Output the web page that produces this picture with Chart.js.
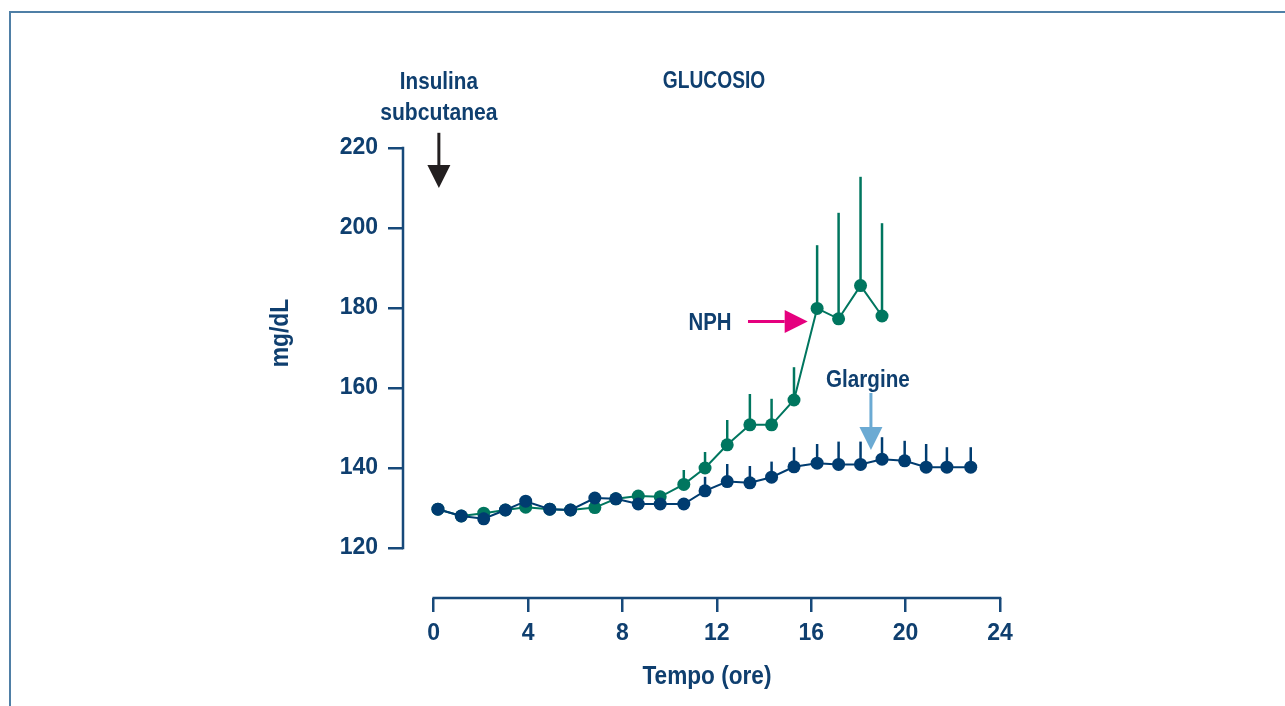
<!DOCTYPE html>
<html>
<head>
<meta charset="utf-8">
<script src="https://cdn.jsdelivr.net/npm/chart.js@4.4.0/dist/chart.umd.min.js"></script>
<style>
body{margin:0;background:#fff;}
#wrap{position:relative;width:1285px;height:706px;overflow:hidden;background:#fff}
#frame{position:absolute;left:9px;top:11px;width:1400px;height:800px;border-top:2px solid #4f7fa6;border-left:2px solid #4f7fa6}
canvas{position:absolute;left:0;top:0}
</style>
</head>
<body>
<div id="wrap"><div id="frame"></div><canvas id="myc" width="1285" height="706"></canvas></div>
<script>
// time of each sample (hours after injection)
var hours = [0.18,1.17,2.12,3.04,3.9,4.92,5.8,6.83,7.72,8.67,9.6,10.6,11.5,12.44,13.4,14.32,15.27,16.25,17.16,18.09,19.0,19.96,20.87,21.75,22.76]
// mean glucose, mg/dL
var glargine = [129.7,128,127.3,129.5,131.7,129.7,129.5,132.5,132.3,131,131,131,134.3,136.6,136.3,137.7,140.3,141.2,140.9,140.9,142.2,141.8,140.2,140.2,140.2]
var nph = [129.7,128,128.7,129.5,130.2,129.7,129.5,130.1,132.3,133,132.8,135.9,140,145.8,150.8,150.8,157,179.9,177.3,185.6,178]
// upper error bar length (SE)
var glargineErr = [1.5,1.5,1.5,1.5,1.5,1.5,1.5,1.5,1.5,1.5,1.5,1.5,3.5,4.4,4.2,3.9,4.9,4.8,5.7,5.7,5.5,5,5.8,5,5]
var nphErr = [1.5,1.5,1.5,1.5,1.5,1.5,1.5,1.5,1.5,1.5,1.5,3.6,4,6.2,7.7,6.5,8.2,15.8,26.5,27.2,23.2]
var xTicks = [0,4,8,12,16,20,24]
var yTicks = [120,140,160,180,200,220]

var navy = '#0f3f6f'
var axisCol = '#17497a'
var blueCol = '#003c70'
var greenCol = '#00765f'
var fontFam = '"Liberation Sans", Arial, sans-serif'

function toPoints(vals){
    var out = []
    for (var i=0;i<vals.length;i++) out.push({x:hours[i], y:vals[i]})
    return out
}

// vertical error bars (upper only), drawn under each series' markers
var errorBars = {
    id:'errorBars',
    beforeDatasetDraw:function(chart,args){
        var ds = chart.data.datasets[args.index]
        if(!ds.err) return
        var ctx = chart.ctx
        var ys = chart.scales.y
        ctx.save()
        ctx.strokeStyle = ds.borderColor
        ctx.lineWidth = 2.5
        args.meta.data.forEach(function(pt,i){
            var top = ys.getPixelForValue(ds.data[i].y + ds.err[i])
            ctx.beginPath()
            ctx.moveTo(pt.x, pt.y)
            ctx.lineTo(pt.x, top)
            ctx.stroke()
        })
        ctx.restore()
    }
}

function arrow(ctx,x1,y1,x2,y2,color,lw){
    var ang = Math.atan2(y2-y1,x2-x1)
    var hl = 23, hw = 11.5
    var bx = x2 - hl*Math.cos(ang), by = y2 - hl*Math.sin(ang)
    ctx.save()
    ctx.strokeStyle = color
    ctx.fillStyle = color
    ctx.lineWidth = lw
    ctx.beginPath()
    ctx.moveTo(x1,y1)
    ctx.lineTo(bx,by)
    ctx.stroke()
    ctx.beginPath()
    ctx.moveTo(x2,y2)
    ctx.lineTo(bx + hw*Math.sin(ang), by - hw*Math.cos(ang))
    ctx.lineTo(bx - hw*Math.sin(ang), by + hw*Math.cos(ang))
    ctx.closePath()
    ctx.fill()
    ctx.restore()
}

// condensed label: bold face squeezed horizontally
function label(ctx,str,x,y,size,sx,rot){
    ctx.save()
    ctx.translate(x,y)
    if(rot) ctx.rotate(rot)
    ctx.scale(sx,1)
    ctx.fillStyle = navy
    ctx.textAlign = 'center'
    ctx.textBaseline = 'middle'
    ctx.font = 'bold ' + size + 'px ' + fontFam
    ctx.fillText(str,0,0)
    ctx.restore()
}

// axis lines, titles and the arrow labels
var decor = {
    id:'decor',
    afterDraw:function(chart){
        var ctx = chart.ctx
        var xs = chart.scales.x, ys = chart.scales.y
        var X = function(v){return xs.getPixelForValue(v)}
        var Y = function(v){return ys.getPixelForValue(v)}
        ctx.save()
        ctx.strokeStyle = axisCol
        ctx.lineWidth = 2.5
        ctx.lineCap = 'square'
        ctx.beginPath()
        ctx.moveTo(X(0), chart.chartArea.bottom)
        ctx.lineTo(X(24), chart.chartArea.bottom)
        ctx.stroke()
        ctx.beginPath()
        ctx.moveTo(chart.chartArea.left, Y(120))
        ctx.lineTo(chart.chartArea.left, Y(220))
        ctx.stroke()
        ctx.restore()

        label(ctx,'Tempo (ore)', X(11.58), 677, 26, 0.87)
        label(ctx,'mg/dL', 281, Y(173.75), 26, 0.88, -Math.PI/2)
        label(ctx,'Insulina', X(0.22), Y(236.5), 24, 0.86)
        label(ctx,'subcutanea', X(0.22), Y(228.75), 24, 0.88)
        label(ctx,'GLUCOSIO', X(11.88), Y(236.6), 24, 0.8)
        label(ctx,'NPH', X(11.71), Y(176.25), 24, 0.85)
        label(ctx,'Glargine', X(18.4), Y(162), 24, 0.86)

        arrow(ctx, X(0.22), Y(223.8), X(0.22), Y(210), '#231f20', 3)
        arrow(ctx, X(13.32), Y(176.6), X(15.85), Y(176.6), '#e5007e', 3)
        arrow(ctx, X(18.53), Y(158.75), X(18.53), Y(144.5), '#6baad3', 3)
    }
}

var config = {
    type:'line',
    data:{
        datasets:[{
            label:'Glargine',
            data:toPoints(glargine),
            err:glargineErr,
            borderColor:blueCol,
            backgroundColor:blueCol,
            borderWidth:2,
            pointRadius:6.5,
            pointBorderWidth:0,
            tension:0
        },{
            label:'NPH',
            data:toPoints(nph),
            err:nphErr,
            borderColor:greenCol,
            backgroundColor:greenCol,
            borderWidth:2,
            pointRadius:6.5,
            pointBorderWidth:0,
            tension:0
        }]
    },
    options:{
        responsive:false,
        animation:false,
        layout:{padding:{left:300,right:285,top:148,bottom:0}},
        plugins:{legend:{display:false},tooltip:{enabled:false}},
        scales:{
            x:{
                type:'linear',
                min:-1.3,
                max:24,
                afterBuildTicks:function(s){ s.ticks = xTicks.map(function(v){return {value:v}}) },
                afterFit:function(s){ s.height = 108 },
                border:{display:false},
                grid:{drawOnChartArea:false,drawTicks:true,tickLength:14,color:axisCol,lineWidth:2.5},
                ticks:{color:navy,padding:8,maxRotation:0,font:{family:fontFam,size:23,weight:'bold'}}
            },
            y:{
                min:107.5,
                max:220,
                afterBuildTicks:function(s){ s.ticks = yTicks.map(function(v){return {value:v}}) },
                afterFit:function(s){ s.width = 103 },
                border:{display:false},
                grid:{drawOnChartArea:false,drawTicks:true,tickLength:15,color:axisCol,lineWidth:2.5},
                ticks:{color:navy,padding:10,font:{family:fontFam,size:23,weight:'bold'}}
            }
        }
    },
    plugins:[errorBars,decor]
}

const ctx = document.getElementById('myc').getContext('2d')
var myChart = new Chart(ctx,config)
</script>
</body>
</html>
